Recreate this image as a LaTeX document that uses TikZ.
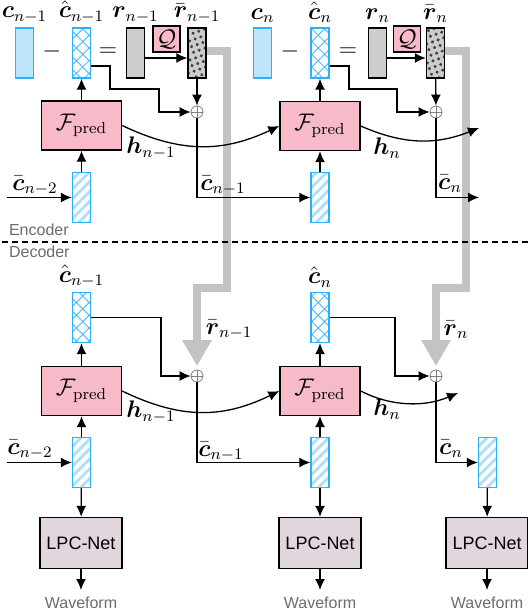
\documentclass[tikz,border=0pt]{standalone}
\usepackage{amsmath,amssymb}
\usepackage{fontspec}
\setsansfont{Liberation Sans}
\definecolor{vblue}{RGB}{190,230,250}
\definecolor{vline}{RGB}{45,175,255}
\definecolor{vpat}{RGB}{175,222,248}
\definecolor{mpink}{RGB}{246,186,201}
\definecolor{mgray}{RGB}{205,205,205}
\definecolor{mlpc}{RGB}{226,214,222}
\definecolor{mbus}{RGB}{195,195,195}
\usepackage{tikz}
\usetikzlibrary{arrows.meta,positioning,patterns.meta}
\tikzset{
  vec/.style={rectangle, minimum width=9pt, minimum height=25pt, inner sep=0pt, line width=0.7pt},
  cvec/.style={vec, draw=vline, fill=vblue},
  chatvec/.style={vec, draw=vline, fill=white,
    postaction={pattern={Hatch[angle=45,distance=4.5pt,line width=0.5pt]}, pattern color=vline!80},
    postaction={draw=vline, line width=0.7pt}},
  cbarvec/.style={vec, draw=vline, fill=white,
    postaction={pattern={Lines[angle=45,distance=3.5pt,line width=1.4pt]}, pattern color=vpat},
    postaction={draw=vline, line width=0.7pt}},
  rvec/.style={vec, draw=black, fill=mgray},
  rbarvec/.style={vec, draw=black, fill=gray!40,
    postaction={pattern={Dots[distance=3pt,radius=0.85pt,angle=20]}, pattern color=black!75},
    postaction={draw=black, line width=0.7pt}},
  qbox/.style={draw, fill=mpink, line width=0.7pt, minimum width=13.5pt, minimum height=13pt, inner sep=0pt, font=\large},
  fpred/.style={draw, fill=mpink, line width=0.7pt, minimum width=40pt, minimum height=24.5pt, font=\large},
  lpcbox/.style={draw, fill=mlpc, line width=0.7pt, minimum width=40pt, minimum height=25.5pt, font=\sffamily\small},
  sum/.style={circle, draw=gray, fill=white, minimum size=6pt, inner sep=0pt, line width=0.4pt,
    path picture={\draw[gray, line width=0.4pt] (path picture bounding box.north) -- (path picture bounding box.south)
      (path picture bounding box.west) -- (path picture bounding box.east);}},
  conn/.style={-{Latex[length=5.5pt,width=5pt]}, line width=0.65pt},
  bus/.style={mbus, line width=4pt, -{Triangle[width=14pt,length=13pt]}},
  lbl/.style={font=\large, inner sep=1pt},
  tag/.style={font=\sffamily\footnotesize, text=gray!85!black}
}
\begin{document}
\begin{tikzpicture}[x=0.5pt, y=-0.5pt]
  \useasboundingbox (0,0) rectangle (528,608);

  % Encoder, step n-1
  \node[cvec] (cvec1) at (24.5,53) {};
  \node[chatvec] (chat1) at (81.5,53) {};
  \node[rvec] (rvec1) at (135.5,53) {};
  \node[qbox] (q1) at (166.5,39) {$\mathcal{Q}$};
  \node[rbarvec] (rbar1) at (197,53) {};
  \node[lbl] (minus1) at (52,52) {$-$};
  \node[lbl] (eq1) at (108,52) {$=$};
  \node[lbl, above=1pt of cvec1] (lc1) {$\boldsymbol{c}_{n-1}$};
  \node[lbl, above=1pt of chat1] (lchat1) {$\hat{\boldsymbol{c}}_{n-1}$};
  \node[lbl, above=1pt of rvec1] (lr1) {$\boldsymbol{r}_{n-1}$};
  \node[lbl, above=1pt of rbar1] (lrbar1) {$\bar{\boldsymbol{r}}_{n-1}$};
  \node[sum] (sum1) at (197,112) {};
  \node[fpred] (fpred1) at (81.5,125.5) {$\mathcal{F}_{\text{pred}}$};
  \node[cbarvec] (cbar1) at (81.5,197.5) {};
  \coordinate (cin1) at (7,197.5);
  \node[lbl] (lcin1) at (35,186) {$\bar{\boldsymbol{c}}_{n-2}$};

  % Encoder, step n
  \node[cvec] (cvec2) at (262.5,53) {};
  \node[chatvec] (chat2) at (320,53) {};
  \node[rvec] (rvec2) at (377.5,53) {};
  \node[qbox] (q2) at (407,39) {$\mathcal{Q}$};
  \node[rbarvec] (rbar2) at (435.5,53) {};
  \node[lbl] (minus2) at (290,52) {$-$};
  \node[lbl] (eq2) at (348,52) {$=$};
  \node[lbl, above=1pt of cvec2] (lc2) {$\boldsymbol{c}_{n}$};
  \node[lbl, above=1pt of chat2] (lchat2) {$\hat{\boldsymbol{c}}_{n}$};
  \node[lbl, above=1pt of rvec2] (lr2) {$\boldsymbol{r}_{n}$};
  \node[lbl, above=1pt of rbar2] (lrbar2) {$\bar{\boldsymbol{r}}_{n}$};
  \node[sum] (sum2) at (436,112) {};
  \node[fpred] (fpred2) at (320,126) {$\mathcal{F}_{\text{pred}}$};
  \node[cbarvec] (cbar2) at (320,197.5) {};
  \coordinate (hout2) at (479,128);
  \coordinate (cout2) at (479,197.5);

  % quantised residual sent to the decoder
  \draw[bus] ([yshift=1pt]rbar1.east) -- (227,51) -- (227,288) -- (197,288) -- (197,366);
  \draw[bus] ([yshift=1pt]rbar2.east) -- (466,51) -- (466,288) -- (436,288) -- (436,366);

  \draw[conn] ([yshift=-2.5pt]rvec1.east) -- ([yshift=-2.5pt]rbar1.west);
  \draw[conn] ([yshift=-6.5pt]chat1.east) -| (110,89) -| (159,112) -- (sum1);
  \draw[conn] (rbar1) -- (sum1);
  \draw[conn] (fpred1) -- (chat1);
  \draw[conn] (cbar1) -- (fpred1);
  \draw[conn] (cin1) -- (cbar1);
  \draw[conn] (sum1) |- (cbar2);
  \node[lbl] (lcout1) at (223,186) {$\bar{\boldsymbol{c}}_{n-1}$};
  \draw[conn] (fpred1.east) .. controls (180,153) and (222,153) .. (fpred2.west);
  \node[lbl] (lh1) at (151,148) {$\boldsymbol{h}_{n-1}$};

  \draw[conn] ([yshift=-2.5pt]rvec2.east) -- ([yshift=-2.5pt]rbar2.west);
  \draw[conn] ([yshift=-6.5pt]chat2.east) -| (349,89) -| (397,112) -- (sum2);
  \draw[conn] (rbar2) -- (sum2);
  \draw[conn] (fpred2) -- (chat2);
  \draw[conn] (cbar2) -- (fpred2);
  \draw[conn] (sum2) |- (cout2);
  \node[lbl] (lcout2) at (450,184) {$\bar{\boldsymbol{c}}_{n}$};
  \draw[conn] (fpred2.east) .. controls (404,145) and (436,145) .. (hout2);
  \node[lbl] (lh2) at (387,148) {$\boldsymbol{h}_{n}$};

  % Encoder / Decoder split
  \node[tag, anchor=west] (enc) at (2,230) {Encoder};
  \draw[dash pattern=on 3pt off 2pt, semithick] (2,242) -- (528,242);
  \node[tag, anchor=west] (dec) at (2,252) {Decoder};

  % Decoder, step n-1
  \node[chatvec] (chat3) at (81.5,317.5) {};
  \node[lbl, above=1pt of chat3] (lchat3) {$\hat{\boldsymbol{c}}_{n-1}$};
  \node[fpred] (fpred3) at (81.5,391) {$\mathcal{F}_{\text{pred}}$};
  \node[cbarvec] (cbar4) at (81.5,462.5) {};
  \node[lpcbox] (lpc1) at (81,543) {LPC-Net};
  \node[tag, anchor=north] (wave1) at (81,590) {Waveform};
  \node[sum] (sum3) at (197,376) {};
  \coordinate (cin4) at (7,462.5);
  \node[lbl] (lcin4) at (30,450) {$\bar{\boldsymbol{c}}_{n-2}$};
  \node[lbl] (lrbar3) at (229,330) {$\bar{\boldsymbol{r}}_{n-1}$};

  % Decoder, step n
  \node[chatvec] (chat4) at (320,317.5) {};
  \node[lbl, above=1pt of chat4] (lchat4) {$\hat{\boldsymbol{c}}_{n}$};
  \node[fpred] (fpred4) at (320,391) {$\mathcal{F}_{\text{pred}}$};
  \node[cbarvec] (cbar5) at (320,462.5) {};
  \node[lpcbox] (lpc2) at (320,543) {LPC-Net};
  \node[tag, anchor=north] (wave2) at (320,590) {Waveform};
  \node[sum] (sum4) at (436,376) {};
  \node[lbl] (lrbar4) at (456,330) {$\bar{\boldsymbol{r}}_{n}$};
  \node[cbarvec] (cbar6) at (487.5,462.5) {};
  \node[lpcbox] (lpc3) at (487,543) {LPC-Net};
  \node[tag, anchor=north] (wave3) at (487,590) {Waveform};
  \coordinate (hout4) at (458,393);

  \draw[conn] (chat3.east) -| (161,376) -- (sum3);
  \draw[conn] (fpred3) -- (chat3);
  \draw[conn] (cbar4) -- (fpred3);
  \draw[conn] (cin4) -- (cbar4);
  \draw[conn] (cbar4) -- (lpc1);
  \draw[conn] (lpc1) -- (wave1);
  \draw[conn] (sum3) |- (cbar5);
  \node[lbl] (lcout3) at (221,452) {$\bar{\boldsymbol{c}}_{n-1}$};
  \draw[conn] (fpred3.east) .. controls (180,419) and (222,419) .. (fpred4.west);
  \node[lbl] (lh3) at (151,412) {$\boldsymbol{h}_{n-1}$};

  \draw[conn] (chat4.east) -| (395,376) -- (sum4);
  \draw[conn] (fpred4) -- (chat4);
  \draw[conn] (cbar5) -- (fpred4);
  \draw[conn] (cbar5) -- (lpc2);
  \draw[conn] (lpc2) -- (wave2);
  \draw[conn] (sum4) |- (cbar6);
  \node[lbl] (lcout4) at (451,449) {$\bar{\boldsymbol{c}}_{n}$};
  \draw[conn] (cbar6) -- (lpc3);
  \draw[conn] (lpc3) -- (wave3);
  \draw[conn] (fpred4.east) .. controls (392,407) and (425,407) .. (hout4);
  \node[lbl] (lh4) at (387,409) {$\boldsymbol{h}_{n}$};
\end{tikzpicture}
\end{document}
